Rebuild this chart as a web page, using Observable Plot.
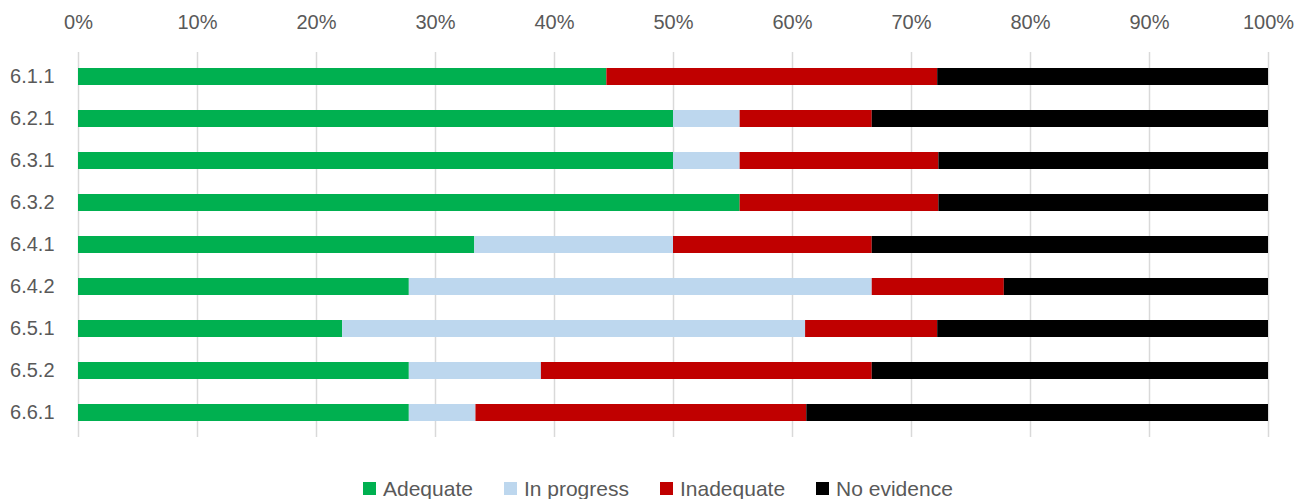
<!DOCTYPE html>
<html>
<head>
<meta charset="utf-8">
<script src="https://cdn.jsdelivr.net/npm/d3@7"></script>
<script src="https://cdn.jsdelivr.net/npm/@observablehq/plot@0.6"></script>
<style>
  body { margin: 0; background: #fff; font-family: "Liberation Sans", Arial, sans-serif; }
  #legend { display: flex; align-items: center; padding-left: 363px; height: 29px; margin-top: 14px; font-size: 21px; color: #595959; }
  .item { display: flex; align-items: center; margin-right: 31px; }
  .sw { width: 13px; height: 13px; margin-right: 7px; }
</style>
</head>
<body>
<div id="chart"></div>
<div id="legend"></div>
<script>
const categories = ["6.1.1", "6.2.1", "6.3.1", "6.3.2", "6.4.1", "6.4.2", "6.5.1", "6.5.2", "6.6.1"];
const series = ["Adequate", "In progress", "Inadequate", "No evidence"];
const colors = ["#00B050", "#BDD7EE", "#C00000", "#000000"];
const adequate   = [44.4, 50.0, 50.0, 55.6, 33.3, 27.8, 22.2, 27.8, 27.8];
const inProgress = [0.0, 5.6, 5.6, 0.0, 16.7, 38.9, 38.9, 11.1, 5.6];
const inadequate = [27.8, 11.1, 16.7, 16.7, 16.7, 11.1, 11.1, 27.8, 27.8];
const noEvidence = [27.8, 33.3, 27.7, 27.7, 33.3, 22.2, 27.8, 33.3, 38.8];
const xTicks = [0, 10, 20, 30, 40, 50, 60, 70, 80, 90, 100];

const valuesBySeries = [adequate, inProgress, inadequate, noEvidence];
const data = [];
series.forEach((s, si) => categories.forEach((c, ci) => data.push({cat: c, series: s, value: valuesBySeries[si][ci]})));

const chart = Plot.plot({
  width: 1297,
  height: 460,
  marginLeft: 78,
  marginRight: 29,
  marginTop: 52,
  marginBottom: 23,
  style: {fontFamily: "Liberation Sans, Arial, sans-serif", fontSize: "20px", color: "#595959", background: "#fff"},
  x: {domain: [0, 100], axis: "top", ticks: xTicks, tickFormat: d => d + "%", tickSize: 0, tickPadding: 24, label: null},
  y: {domain: categories, paddingInner: 0.6, paddingOuter: 0.3, tickSize: 0, tickPadding: 24, label: null},
  color: {domain: series, range: colors},
  marks: [
    Plot.ruleX(xTicks, {stroke: "#D9D9D9", strokeWidth: 1.5}),
    Plot.barX(data, Plot.stackX({x: "value", y: "cat", fill: "series", order: series})),
  ]
});
document.getElementById("chart").appendChild(chart);

const legend = document.getElementById("legend");
series.forEach((s, i) => {
  const it = document.createElement("div");
  it.className = "item";
  it.innerHTML = `<div class="sw" style="background:${colors[i]}"></div><span>${s}</span>`;
  legend.appendChild(it);
});
</script>
</body>
</html>
